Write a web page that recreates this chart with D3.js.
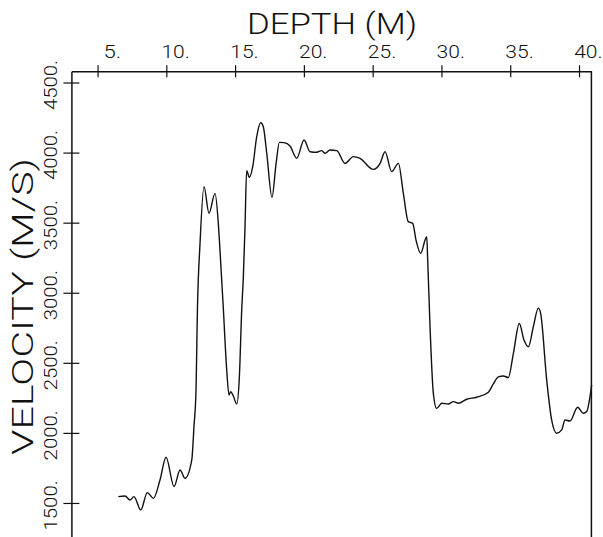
<!DOCTYPE html>
<html>
<head>
<meta charset="utf-8">
<script src="https://cdn.jsdelivr.net/npm/d3@7"></script>
<style>
  body { margin: 0; background: #fff; }
  text { font-family: Roboto, Lato, "DejaVu Sans", sans-serif; font-weight: 300; fill: #111; }
</style>
</head>
<body>
<div id="chart"></div>
<script>
// depth (m) and velocity (m/s)
var depth = [6.51, 7.00, 7.36, 7.65, 8.14, 8.62, 9.06, 9.54, 9.98, 10.56,
  11.00, 11.36, 11.85, 12.01, 12.16, 12.26, 12.45, 12.74, 13.10, 13.54,
  13.78, 13.90, 14.15, 14.39, 14.56, 14.68, 14.87, 15.12, 15.31, 15.48,
  15.60, 15.72, 15.84, 16.04, 16.28, 16.57, 16.86, 17.05, 17.30, 17.68,
  17.98, 18.22, 18.56, 18.99, 19.48, 20.01, 20.45, 20.93, 21.30, 21.54,
  21.90, 22.39, 22.99, 23.60, 24.08, 25.05, 25.54, 25.90, 26.38, 26.87,
  27.23, 27.59, 27.91, 28.15, 28.49, 28.81, 28.93, 29.00, 29.17, 29.41,
  29.65, 30.02, 30.50, 30.86, 31.23, 31.83, 32.56, 33.41, 33.77, 34.14,
  34.50, 34.86, 35.23, 35.66, 36.00, 36.32, 36.68, 37.04, 37.21, 37.65,
  38.01, 38.37, 38.74, 38.98, 39.35, 39.90, 40.32, 40.56, 40.80, 40.92];

var velocity = [1545, 1550, 1521, 1545, 1450, 1574, 1533, 1664, 1826, 1617,
  1735, 1676, 1807, 2045, 2306, 2877, 3352, 3757, 3567, 3709,
  3495, 3305, 2877, 2449, 2270, 2294, 2263, 2206, 2401, 2877,
  3115, 3471, 3871, 3823, 3899, 4113, 4213, 4185, 3995, 3681,
  3923, 4073, 4071, 4047, 3959, 4090, 4006, 4002, 4014, 3995,
  4018, 4014, 3923, 3971, 3959, 3880, 3923, 4006, 3864, 3923,
  3709, 3507, 3495, 3376, 3281, 3376, 3400, 3234, 2758, 2282,
  2175, 2211, 2206, 2223, 2211, 2240, 2254, 2290, 2350, 2400,
  2406, 2395, 2568, 2780, 2663, 2615, 2758, 2890, 2853, 2377,
  2092, 1997, 2021, 2092, 2085, 2183, 2140, 2152, 2258, 2342];

var depthTicks = [5, 10, 15, 20, 25, 30, 35, 40];
var velocityTicks = [1500, 2000, 2500, 3000, 3500, 4000, 4500];
var xTitle = "DEPTH (M)";
var yTitle = "VELOCITY (M/S)";

var width = 603, height = 537;

var svg = d3.select("#chart")
  .append("svg")
    .attr("width", width)
    .attr("height", height);

// scales (plot box runs off the bottom of the picture)
var x = d3.scaleLinear().domain([3.1, 40.9]).range([71.4, 591.4]);
var y = d3.scaleLinear().domain([1250, 4580]).range([538, 71.3]);

// label width like the old plotter font
function labelLen(s) { return s.length * 10.8 - 4; }

// top axis
var gx = svg.append("g")
  .attr("transform", "translate(0," + y(4580) + ")")
  .call(d3.axisTop(x).tickValues(depthTicks).tickSizeOuter(0)
    .tickFormat(function(d) { return d + "."; }));
gx.select(".domain").attr("stroke", "#111").attr("stroke-width", 1.5);
gx.selectAll(".tick line").attr("y1", -6).attr("y2", 6)
  .attr("stroke", "#111").attr("stroke-width", 1.2);
gx.selectAll(".tick text")
  .attr("x", 23).attr("y", -13).attr("dy", 0)
  .attr("text-anchor", "end")
  .style("font-size", "19px")
  .attr("fill", "#111")
  .attr("textLength", function(d) { return labelLen(d + "."); })
  .attr("lengthAdjust", "spacingAndGlyphs");

// left axis
var gy = svg.append("g")
  .attr("transform", "translate(" + x(3.1) + ",0)")
  .call(d3.axisLeft(y).tickValues(velocityTicks).tickSizeOuter(0)
    .tickFormat(function(d) { return d + "."; }));
gy.select(".domain").attr("stroke", "#111").attr("stroke-width", 1.5);
gy.selectAll(".tick line").attr("x1", -8).attr("x2", 8)
  .attr("stroke", "#111").attr("stroke-width", 1.2);
gy.selectAll(".tick text")
  .attr("x", null).attr("dy", null)
  .attr("transform", "translate(-14,-23) rotate(-90)")
  .attr("text-anchor", "end")
  .style("font-size", "19px")
  .attr("fill", "#111")
  .attr("textLength", function(d) { return labelLen(d + "."); })
  .attr("lengthAdjust", "spacingAndGlyphs");

// right border
svg.append("line")
  .attr("x1", x(40.9)).attr("x2", x(40.9))
  .attr("y1", y(4580)).attr("y2", y(1250))
  .attr("stroke", "#111").attr("stroke-width", 1.5);

// titles
svg.append("text")
  .attr("x", 247).attr("y", 34)
  .style("font-size", "30px")
  .attr("textLength", 170)
  .attr("lengthAdjust", "spacingAndGlyphs")
  .text(xTitle);

svg.append("text")
  .attr("transform", "translate(33,455) rotate(-90)")
  .style("font-size", "30px")
  .attr("textLength", 297)
  .attr("lengthAdjust", "spacingAndGlyphs")
  .text(yTitle);

// velocity profile
var line = d3.line()
  .x(function(d, i) { return x(depth[i]); })
  .y(function(d) { return y(d); })
  .curve(d3.curveMonotoneX);

svg.append("path")
  .attr("d", line(velocity))
  .attr("fill", "none")
  .attr("stroke", "#111")
  .attr("stroke-width", 1.4);
</script>
</body>
</html>
